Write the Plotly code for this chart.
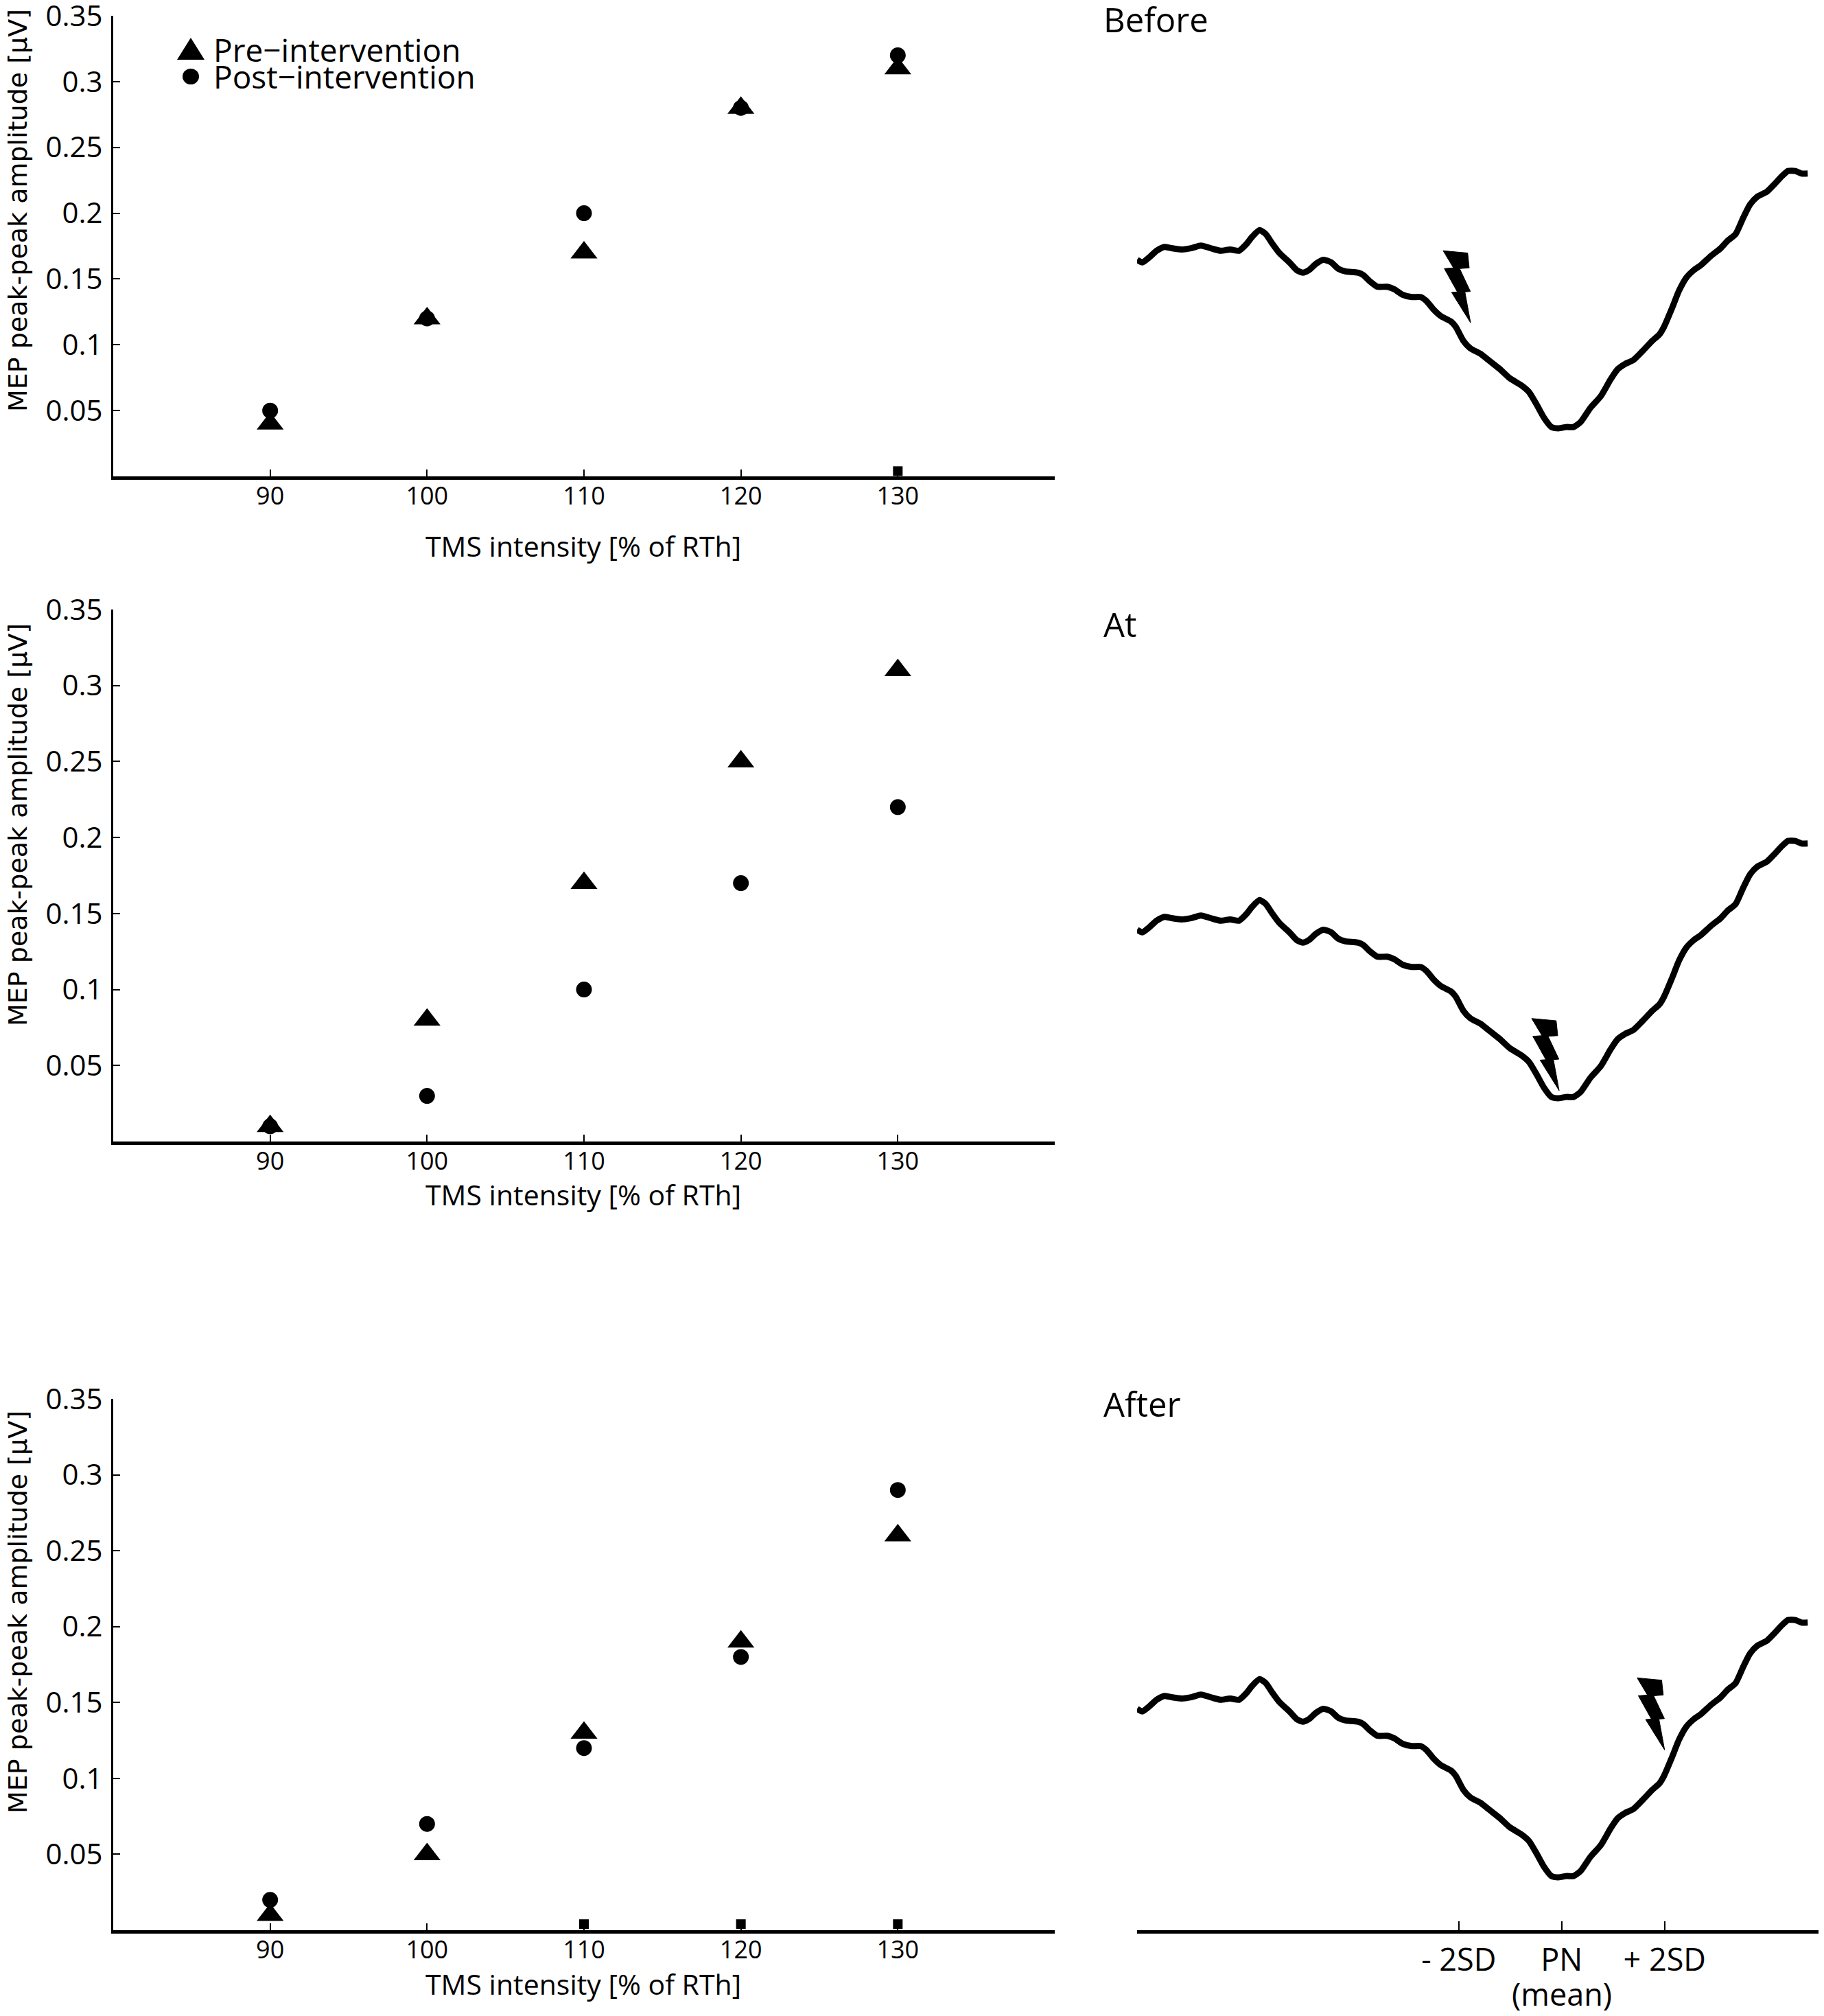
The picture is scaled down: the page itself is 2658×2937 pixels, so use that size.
import plotly.graph_objects as go

W, H = 2658, 2937
BODY = 8  # default page margin around the plot div
FW, FH = W - 2 * BODY, H - 2 * BODY

# TMS intensities (% of resting threshold)
INTENSITY = [90, 100, 110, 120, 130]

# MEP peak-peak amplitudes
PRE_BEFORE = [0.04, 0.12, 0.17, 0.28, 0.31]
POST_BEFORE = [0.05, 0.12, 0.20, 0.28, 0.32]
PRE_AT = [0.01, 0.08, 0.17, 0.25, 0.31]
POST_AT = [0.01, 0.03, 0.10, 0.17, 0.22]
PRE_AFTER = [0.01, 0.05, 0.13, 0.19, 0.26]
POST_AFTER = [0.02, 0.07, 0.12, 0.18, 0.29]

# little square marks sitting on the x axis
ZERO_X_BEFORE = [130]
ZERO_X_AFTER = [110, 120, 130]
ZERO_Y = 0.004

Y_TICKS = [0.05, 0.1, 0.15, 0.2, 0.25, 0.3, 0.35]
Y_TICKTEXT = ["0.05", "0.1", "0.15", "0.2", "0.25", "0.3", "0.35"]

# phase waveform (x in SD units around the mean PN, y arbitrary amplitude)
WAVE_X = [-8.25, -8.15, -8.01, -7.87, -7.72, -7.58, -7.39, -7.20, -7.01, -6.82,
          -6.63, -6.44, -6.27, -6.13, -6.01, -5.87, -5.75, -5.63, -5.48, -5.29,
          -5.15, -5.03, -4.91, -4.77, -4.63, -4.48, -4.34, -4.20, -3.96, -3.85,
          -3.72, -3.58, -3.39, -3.25, -3.10, -2.91, -2.74, -2.63, -2.48, -2.34,
          -2.15, -2.06, -1.91, -1.77, -1.58, -1.39, -1.20, -1.01, -0.77, -0.63,
          -0.48, -0.34, -0.20, -0.06, 0.09, 0.23, 0.37, 0.56, 0.76, 0.95,
          1.09, 1.23, 1.39, 1.57, 1.76, 1.90, 1.99, 2.14, 2.28, 2.42,
          2.57, 2.71, 2.90, 3.09, 3.23, 3.38, 3.52, 3.66, 3.80, 3.99,
          4.14, 4.28, 4.40, 4.54, 4.66, 4.78]
WAVE_Y = [1.31, 1.29, 1.33, 1.38, 1.41, 1.40, 1.39, 1.40, 1.42, 1.40,
          1.38, 1.39, 1.38, 1.43, 1.49, 1.54, 1.51, 1.44, 1.36, 1.29,
          1.23, 1.21, 1.23, 1.28, 1.31, 1.29, 1.24, 1.22, 1.21, 1.19,
          1.14, 1.10, 1.10, 1.08, 1.04, 1.02, 1.02, 0.99, 0.92, 0.87,
          0.83, 0.79, 0.68, 0.62, 0.58, 0.52, 0.46, 0.39, 0.33, 0.28,
          0.18, 0.08, 0.01, 0.00, 0.01, 0.01, 0.05, 0.16, 0.25, 0.38,
          0.46, 0.50, 0.53, 0.60, 0.68, 0.73, 0.79, 0.93, 1.07, 1.17,
          1.23, 1.27, 1.34, 1.40, 1.46, 1.51, 1.63, 1.74, 1.80, 1.84,
          1.90, 1.96, 2.00, 2.00, 1.98, 1.98]

# stimulus (lightning bolt) tip position in each panel
BOLT_X = [-1.77, -0.05, 2.00]
BOLT_Y = [0.82, 0.06, 0.99]

SD_TICKS = [-2, 0, 2]
SD_LABELS = ["- 2SD", "PN", "+ 2SD"]
PN_NOTE = "(mean)"

PANELS = ["Before", "At", "After"]
PRE = [PRE_BEFORE, PRE_AT, PRE_AFTER]
POST = [POST_BEFORE, POST_AT, POST_AFTER]
ZERO_X = [ZERO_X_BEFORE, [], ZERO_X_AFTER]


def fx(p):
    return (p - BODY) / FW


def fy(p):
    return 1 - (p - BODY) / FH


# layout in page pixels
LEFT_PX = [165, 1537]
RIGHT_PX = [1657, W - BODY]
PANEL_PX = [[23, 694], [888, 1663], [2038, 2812]]  # top, bottom of each row
WAVE_MIN_PX = [624, 1600, 2735]  # where the waveform trough sits
PX_PER_SD = 75.0
PX_PER_AMP = 187.45
WAVE_X0 = -8.25
XTITLE_Y = [795, 1740, 2890]
YTITLE_Y = [307, 1202, 2349]
PANEL_TITLE_Y = [28, 909, 2045]
PN_NOTE_Y = 2904

# bolt outline in pixels relative to its tip (dx right, dy up)
BOLT_PX = [(-40, 105), (-4.3, 101.7), (-2, 80), (-16, 79), (-0.3, 45.7), (-8.3, 45),
           (0, 0), (-27.7, 44.3), (-19.3, 45), (-38.3, 79), (-25, 80), (-40, 105)]

XTICK_FONT = dict(family="Open Sans, sans-serif", size=36, color="black")
YTICK_FONT = dict(family="Open Sans, sans-serif", size=42, color="black")
XTITLE_FONT = dict(family="Open Sans, sans-serif", size=41, color="black")
SD_FONT = dict(family="Open Sans, sans-serif", size=45, color="black")

fig = go.Figure()
layout = {}


def axis_key(ref):
    return ("xaxis" if ref[0] == "x" else "yaxis") + ref[1:]


for i, name in enumerate(PANELS):
    lx = "x" if i == 0 else f"x{2 * i + 1}"
    ly = "y" if i == 0 else f"y{2 * i + 1}"
    rx, ry = f"x{2 * i + 2}", f"y{2 * i + 2}"
    top_px, bot_px = PANEL_PX[i]
    ydom = [fy(bot_px), fy(top_px)]

    fig.add_trace(go.Scatter(x=INTENSITY, y=PRE[i], mode="markers", xaxis=lx, yaxis=ly,
                             marker=dict(symbol="triangle-up", size=34, color="black"),
                             name="Pre\u2212intervention", showlegend=False, cliponaxis=False))
    fig.add_trace(go.Scatter(x=INTENSITY, y=POST[i], mode="markers", xaxis=lx, yaxis=ly,
                             marker=dict(symbol="circle", size=23, color="black"),
                             name="Post\u2212intervention", showlegend=False, cliponaxis=False))
    if ZERO_X[i]:
        fig.add_trace(go.Scatter(x=ZERO_X[i], y=[ZERO_Y] * len(ZERO_X[i]), mode="markers",
                                 xaxis=lx, yaxis=ly, showlegend=False, cliponaxis=False,
                                 marker=dict(symbol="square", size=14, color="black")))

    # waveform on the right
    fig.add_trace(go.Scatter(x=WAVE_X, y=WAVE_Y, mode="lines", xaxis=rx, yaxis=ry,
                             line=dict(color="black", width=9, shape="spline", smoothing=0.6),
                             showlegend=False, cliponaxis=False))

    # lightning bolt
    bx = [BOLT_X[i] + dx / PX_PER_SD for dx, dy in BOLT_PX]
    by = [BOLT_Y[i] + dy / PX_PER_AMP for dx, dy in BOLT_PX]
    fig.add_trace(go.Scatter(x=bx, y=by, mode="lines", fill="toself", fillcolor="black",
                             line=dict(color="black", width=1), xaxis=rx, yaxis=ry,
                             showlegend=False, cliponaxis=False))

    layout[axis_key(lx)] = dict(domain=[fx(LEFT_PX[0]), fx(LEFT_PX[1])], anchor=ly,
                                range=[80, 140], showline=True, linecolor="black",
                                linewidth=5, ticks="inside", ticklen=10, tickwidth=2,
                                tickcolor="black", tickvals=INTENSITY, showgrid=False,
                                zeroline=False, tickfont=XTICK_FONT, automargin=False,
                                ticklabelstandoff=-7)
    layout[axis_key(ly)] = dict(domain=ydom, anchor=lx, range=[0, 0.35], showline=True,
                                linecolor="black", linewidth=3, ticks="inside", ticklen=10,
                                tickwidth=2, tickcolor="black", tickvals=Y_TICKS,
                                ticktext=Y_TICKTEXT, showgrid=False, zeroline=False,
                                tickfont=YTICK_FONT, automargin=False, ticklabelstandoff=4,
                                ticklabeloverflow="allow")
    last = i == len(PANELS) - 1
    xr = [WAVE_X0, WAVE_X0 + (RIGHT_PX[1] - RIGHT_PX[0]) / PX_PER_SD]
    yr = [(WAVE_MIN_PX[i] - bot_px) / PX_PER_AMP, (WAVE_MIN_PX[i] - top_px) / PX_PER_AMP]
    layout[axis_key(rx)] = dict(domain=[fx(RIGHT_PX[0]), fx(RIGHT_PX[1])], anchor=ry,
                                range=xr, visible=last, showline=last, linecolor="black",
                                linewidth=5, ticks="inside", ticklen=13, tickwidth=2,
                                tickcolor="black", tickvals=SD_TICKS, ticktext=SD_LABELS,
                                showgrid=False, zeroline=False, tickfont=SD_FONT,
                                automargin=False)
    layout[axis_key(ry)] = dict(domain=ydom, anchor=rx, range=yr, visible=False,
                                automargin=False)

annotations = []
for i, name in enumerate(PANELS):
    annotations.append(dict(text=name, x=fx(1606), y=fy(PANEL_TITLE_Y[i]), xref="paper",
                            yref="paper", xanchor="left", yanchor="middle", showarrow=False,
                            font=dict(family="Open Sans, sans-serif", size=49, color="black")))
    annotations.append(dict(text="TMS intensity [% of RTh]", x=fx(850), y=fy(XTITLE_Y[i]),
                            xref="paper", yref="paper", xanchor="center", yanchor="middle",
                            showarrow=False, font=XTITLE_FONT))
    annotations.append(dict(text="MEP peak-peak amplitude [\u00b5V]", x=fx(26),
                            y=fy(YTITLE_Y[i]), xref="paper", yref="paper", xanchor="center",
                            yanchor="middle", textangle=-90, showarrow=False,
                            font=dict(family="DejaVu Sans, sans-serif", size=38, color="black")))

# "(mean)" under the PN tick of the bottom waveform axis
annotations.append(dict(text=PN_NOTE, x=SD_TICKS[1], xref="x6", y=fy(PN_NOTE_Y), yref="paper",
                        xanchor="center", yanchor="middle", showarrow=False, font=SD_FONT))

# legend drawn by hand in the top-left panel
LEGEND_LABELS = ["Pre\u2212intervention", "Post\u2212intervention"]
LEGEND_Y = [72, 111]
for lab, ly in zip(LEGEND_LABELS, LEGEND_Y):
    annotations.append(dict(text=lab, x=fx(309), y=fy(ly), xref="paper", yref="paper",
                            xanchor="left", yanchor="middle", showarrow=False,
                            font=dict(family="Open Sans, sans-serif", size=46, color="black")))

shapes = [
    dict(type="path", xref="paper", yref="paper", fillcolor="black", line=dict(width=0),
         path=f"M {fx(258)},{fy(87)} L {fx(298)},{fy(87)} L {fx(278)},{fy(55)} Z"),
    dict(type="circle", xref="paper", yref="paper", fillcolor="black", line=dict(width=0),
         x0=fx(266), x1=fx(290), y0=fy(123), y1=fy(100)),
]

fig.update_layout(width=FW, height=FH, margin=dict(l=0, r=0, t=0, b=0),
                  paper_bgcolor="white", plot_bgcolor="white",
                  annotations=annotations, shapes=shapes, **layout)

fig.write_html("out.html")
